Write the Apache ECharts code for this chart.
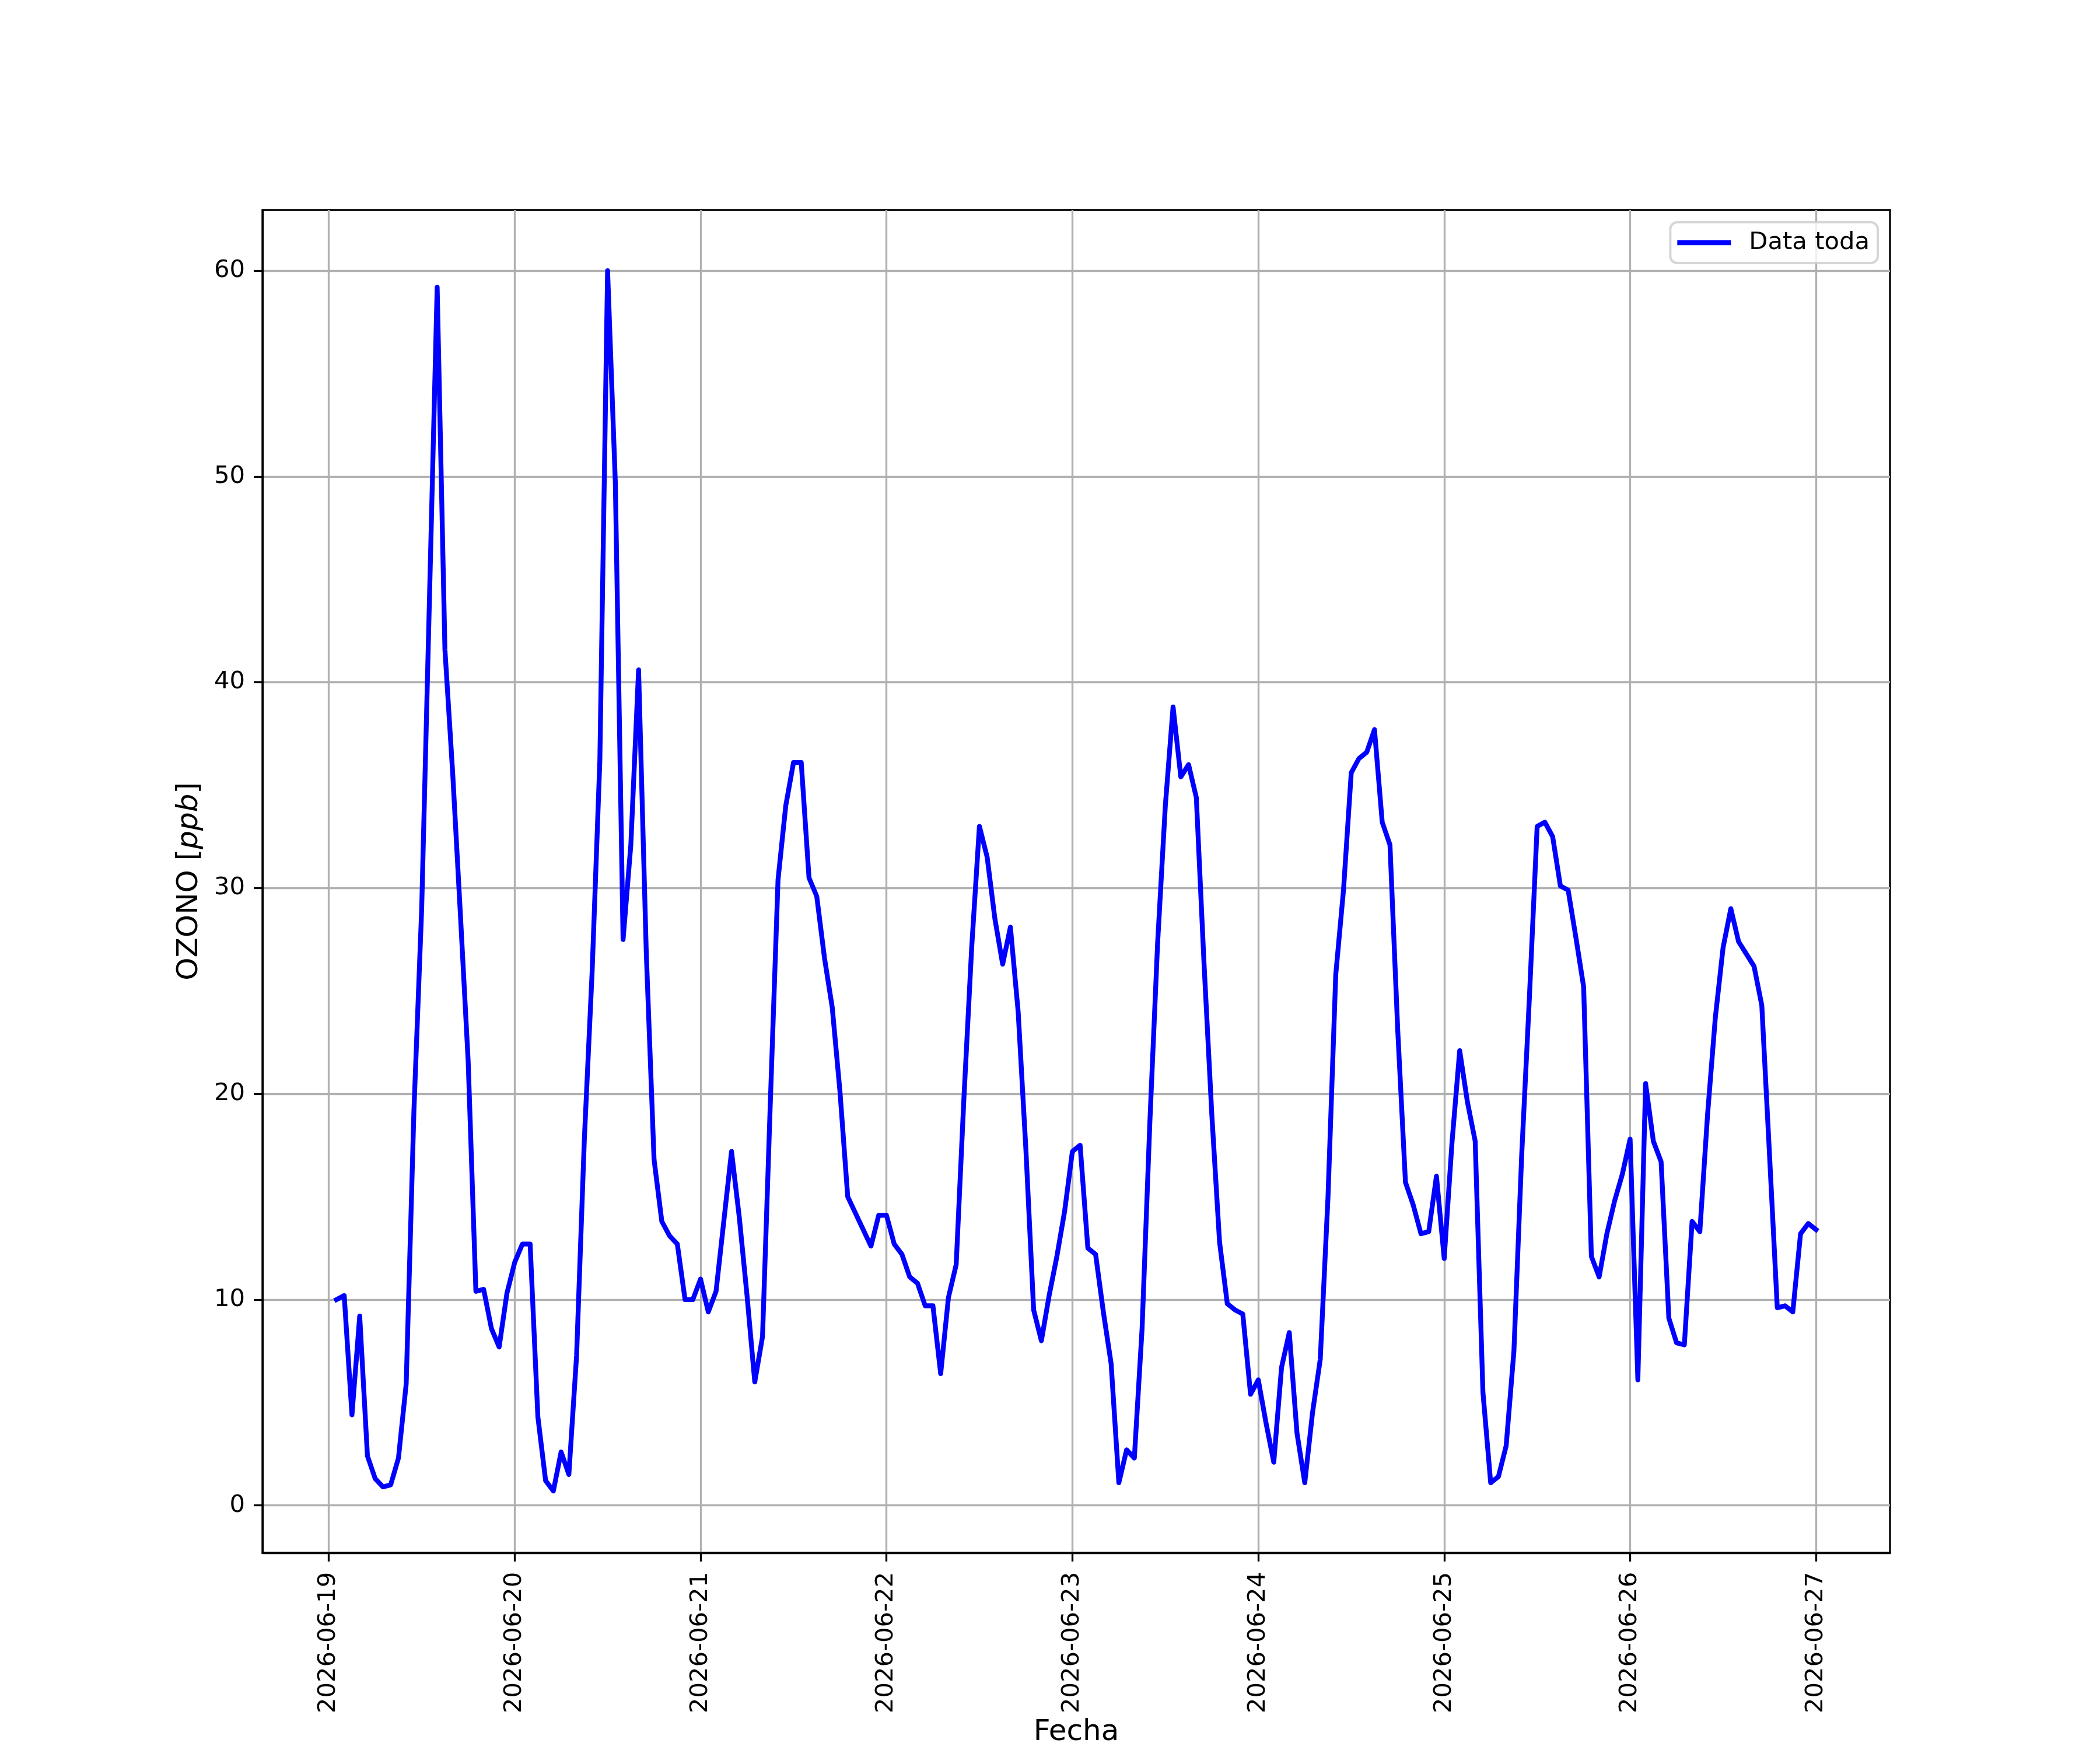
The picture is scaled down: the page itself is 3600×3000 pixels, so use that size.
<!DOCTYPE html>
<html>
<head>
<meta charset="utf-8">
<script src="https://cdn.jsdelivr.net/npm/echarts@6/dist/echarts.min.js"></script>
<style>
html,body{margin:0;padding:0;background:#fff;}
#chart{width:3600px;height:3000px;}
</style>
</head>
<body>
<div id="chart"></div>
<script>
// Hourly ozone values (ppb), hours 01:00 .. 24:00 of each day
const o3_0619 = [10.0, 10.2, 4.4, 9.2, 2.4, 1.3, 0.9, 1.0, 2.3, 5.9, 19.2, 29.0, 44.0, 59.2, 41.6, 35.6, 28.7, 21.6, 10.4, 10.5, 8.6, 7.7, 10.3, 11.8];
const o3_0620 = [12.7, 12.7, 4.3, 1.2, 0.7, 2.6, 1.5, 7.3, 17.8, 25.9, 36.2, 60.0, 49.7, 27.5, 32.1, 40.6, 26.8, 16.8, 13.8, 13.1, 12.7, 10.0, 10.0, 11.0];
const o3_0621 = [9.4, 10.4, 13.8, 17.2, 14.0, 10.2, 6.0, 8.2, 19.5, 30.4, 34.0, 36.1, 36.1, 30.5, 29.6, 26.6, 24.2, 20.1, 15.0, 14.2, 13.4, 12.6, 14.1, 14.1];
const o3_0622 = [12.7, 12.2, 11.1, 10.8, 9.7, 9.7, 6.4, 10.1, 11.7, 19.8, 27.1, 33.0, 31.5, 28.5, 26.3, 28.1, 24.0, 17.3, 9.5, 8.0, 10.2, 12.1, 14.3, 17.2];
const o3_0623 = [17.5, 12.5, 12.2, 9.4, 6.9, 1.1, 2.7, 2.3, 8.6, 18.6, 27.3, 34.0, 38.8, 35.4, 36.0, 34.4, 26.3, 19.0, 12.8, 9.8, 9.5, 9.3, 5.4, 6.1];
const o3_0624 = [4.0, 2.1, 6.7, 8.4, 3.5, 1.1, 4.5, 7.1, 15.0, 25.8, 29.9, 35.6, 36.3, 36.6, 37.7, 33.2, 32.1, 23.1, 15.7, 14.6, 13.2, 13.3, 16.0, 12.0];
const o3_0625 = [17.6, 22.1, 19.6, 17.7, 5.5, 1.1, 1.4, 2.9, 7.5, 17.0, 24.7, 33.0, 33.2, 32.5, 30.1, 29.9, 27.6, 25.2, 12.1, 11.1, 13.2, 14.8, 16.1, 17.8];
const o3_0626 = [6.1, 20.5, 17.7, 16.7, 9.1, 7.9, 7.8, 13.8, 13.3, 19.0, 23.7, 27.1, 29.0, 27.4, 26.8, 26.2, 24.3, 17.0, 9.6, 9.7, 9.4, 13.2, 13.7, 13.4];

const dateLabels = ['2026-06-19','2026-06-20','2026-06-21','2026-06-22','2026-06-23','2026-06-24','2026-06-25','2026-06-26','2026-06-27'];
const yTicks = [0, 10, 20, 30, 40, 50, 60];
const seriesName = 'Data toda';
const xName = 'Fecha';

const days = [o3_0619, o3_0620, o3_0621, o3_0622, o3_0623, o3_0624, o3_0625, o3_0626];
// x in days since 2026-06-19 00:00
const points = [];
days.forEach((arr, d) => {
  arr.forEach((v, i) => { points.push([(d * 24 + i + 1) / 24, v]); });
});
const xTickValues = dateLabels.map((_, i) => i);

const chart = echarts.init(document.getElementById('chart'), null, {renderer: 'canvas', width: 3600, height: 3000});
const FONT = 'DejaVu Sans';
chart.setOption({
  backgroundColor: '#ffffff',
  animation: false,
  textStyle: {fontFamily: FONT},
  grid: {
    left: 450, right: 360, top: 360, bottom: 330,
    show: true, borderColor: '#000000', borderWidth: 3.3, backgroundColor: 'transparent'
  },
  legend: {
    right: 381, top: 381,
    data: [{name: seriesName, icon: 'rect'}],
    itemWidth: 92, itemHeight: 8.3,
    padding: [14, 14, 14, 12],
    backgroundColor: 'rgba(255,255,255,0.8)',
    borderColor: 'rgba(204,204,204,0.8)', borderWidth: 4, borderRadius: 12,
    textStyle: {fontFamily: FONT, fontSize: 41.7, color: '#000', padding: [0, 0, 0, 26]}
  },
  xAxis: {
    type: 'value',
    min: -0.3562, max: 8.3979,
    splitNumber: 9,
    name: xName,
    nameLocation: 'middle',
    nameGap: 283,
    nameTextStyle: {fontFamily: FONT, fontSize: 50, color: '#000'},
    axisLine: {show: true, onZero: false, lineStyle: {color: '#000', width: 3.3}},
    axisTick: {show: true, length: 15, lineStyle: {color: '#000', width: 3.3}, customValues: xTickValues},
    axisLabel: {
      show: true, rotate: 90, margin: 33, fontFamily: FONT, fontSize: 41.7, color: '#000',
      customValues: xTickValues,
      formatter: function (v) {
        const i = Math.round(v);
        return Math.abs(v - i) < 1e-6 && dateLabels[i] ? dateLabels[i] : '';
      }
    },
    splitLine: {show: true, lineStyle: {color: '#b0b0b0', width: 3.3}}
  },
  yAxis: {
    type: 'value',
    min: -2.3, max: 62.95,
    splitNumber: 7,
    name: '{n|OZONO [}{i|ppb}{n|]}',
    nameLocation: 'middle',
    nameRotate: 90,
    nameGap: 100,
    nameTextStyle: {
      fontFamily: FONT, fontSize: 50, color: '#000',
      rich: {
        n: {fontFamily: FONT, fontSize: 50, color: '#000'},
        i: {fontFamily: FONT, fontSize: 50, color: '#000', fontStyle: 'italic'}
      }
    },
    axisLine: {show: true, onZero: false, lineStyle: {color: '#000', width: 3.3}},
    axisTick: {show: true, length: 15, lineStyle: {color: '#000', width: 3.3}, customValues: yTicks},
    axisLabel: {
      show: true, margin: 30, fontFamily: FONT, fontSize: 41.7, color: '#000',
      customValues: yTicks,
      formatter: function (v) {
        return Math.abs(v / 10 - Math.round(v / 10)) < 1e-6 ? String(Math.round(v)) : '';
      }
    },
    splitLine: {show: true, lineStyle: {color: '#b0b0b0', width: 3.3}}
  },
  series: [{
    name: seriesName,
    type: 'line',
    data: points,
    showSymbol: false,
    symbol: 'none',
    lineStyle: {color: '#0000ff', width: 8.3, join: 'round', cap: 'square'},
    itemStyle: {color: '#0000ff'},
    z: 3
  }]
});
</script>
</body>
</html>
